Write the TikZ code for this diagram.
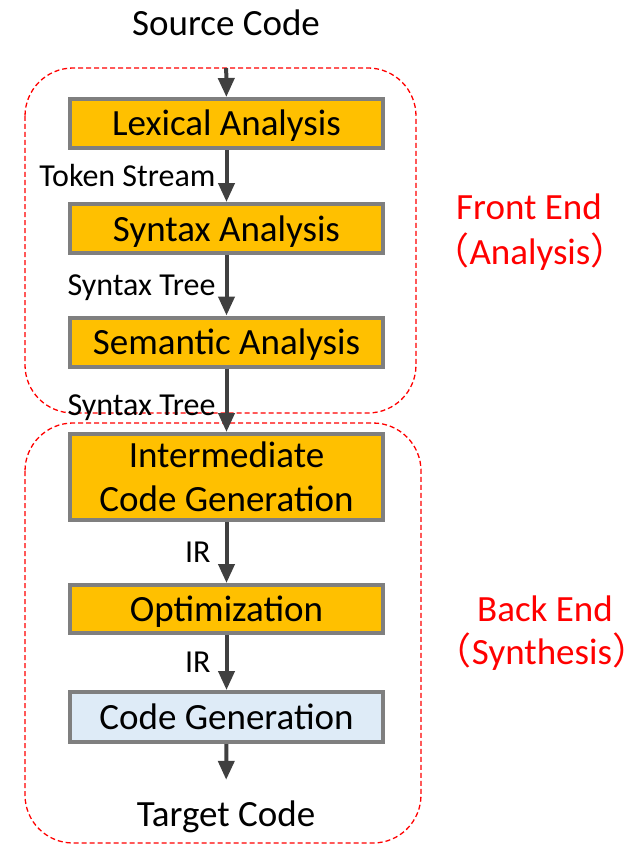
\documentclass[tikz,border=0pt]{standalone}
\usepackage{fontspec}
\setmainfont{Carlito}
\newfontfamily\cjk{Noto Sans CJK SC}
\usetikzlibrary{arrows.meta}
\definecolor{boxorange}{HTML}{FFC000}
\definecolor{boxgray}{HTML}{7F7F7F}
\definecolor{boxblue}{HTML}{DEEBF7}
\definecolor{arrowgray}{HTML}{404040}
\newcommand{\lparen}{\makebox[0.5em][r]{\cjk （}}
\newcommand{\rparen}{\makebox[0.5em][l]{\cjk ）}}
\begin{document}
\begin{tikzpicture}[x=1pt,y=-1pt,
 stagebase/.style={draw=boxgray, line width=4pt, fill=boxorange, minimum width=313pt, minimum height=49pt, inner sep=0pt, font=\fontsize{37}{44}\selectfont},
 stage/.style={stagebase, text height=31pt, text depth=6pt},
 arr/.style={draw=arrowgray, line width=4pt, -{Triangle[length=19pt,width=16pt]}},
 lbl/.style={font=\fontsize{32}{36}\selectfont, anchor=east, inner sep=0pt, xshift=-9pt, text height=20.6pt, text depth=0pt},
 big/.style={font=\fontsize{37}{44}\selectfont, inner sep=0pt, text height=24pt, text depth=0pt},
 group/.style={draw=red, line width=1.3pt, dash pattern=on 5pt off 3pt, rounded corners=48pt},
 side/.style={text=red, font=\fontsize{37}{44}\selectfont, inner sep=0pt, text height=24pt, text depth=0pt}]
\useasboundingbox (0,0) rectangle (643,845);
% groups
\draw[group] (25,68) rectangle (416,413);
\draw[group] (25,423) rectangle (421,843);
% texts
\node[big] (src) at (226,24) {Source Code};
\node[big] (tgt) at (226,814) {Target Code};
% stages
\node[stage] (lex) at (226.5,123.5) {Lexical Analysis};
\node[stage] (syn) at (226.5,228.5) {Syntax Analysis};
\node[stage] (sem) at (226.5,342) {Semantic Analysis};
\node[stagebase, minimum height=86pt, align=center] (icg) at (226.5,477) {\raisebox{-2pt}{Intermediate}\\\raisebox{-2pt}{Code Generation}};
\node[stage, minimum height=48pt] (opt) at (226.5,609) {Optimization};
\node[stage, minimum height=50pt, fill=boxblue] (cg) at (226.5,717) {Code Generation};
% connectors
\draw[arr, shorten <=32pt] (src) -- (lex);
\draw[arr] (lex) -- node[lbl] {Token Stream} (syn);
\draw[arr] (syn) -- node[lbl] {Syntax Tree} (sem);
\draw[arr] (sem) -- node[lbl, yshift=-5pt] {Syntax Tree} (icg);
\draw[arr] (icg) -- node[lbl, xshift=-5pt] {IR} (opt);
\draw[arr] (opt) -- node[lbl, xshift=-5pt] {IR} (cg);
\draw[arr, shorten >=22pt] (cg) -- (tgt);
% side labels
\node[side] (fe) at (529,207) {Front End};
\node[side] (fa) at (530,252) {\lparen Analysis\rparen};
\node[side] (be) at (545,609) {Back End};
\node[side] (bs) at (542,652) {\lparen Synthesis\rparen};
\end{tikzpicture}
\end{document}
